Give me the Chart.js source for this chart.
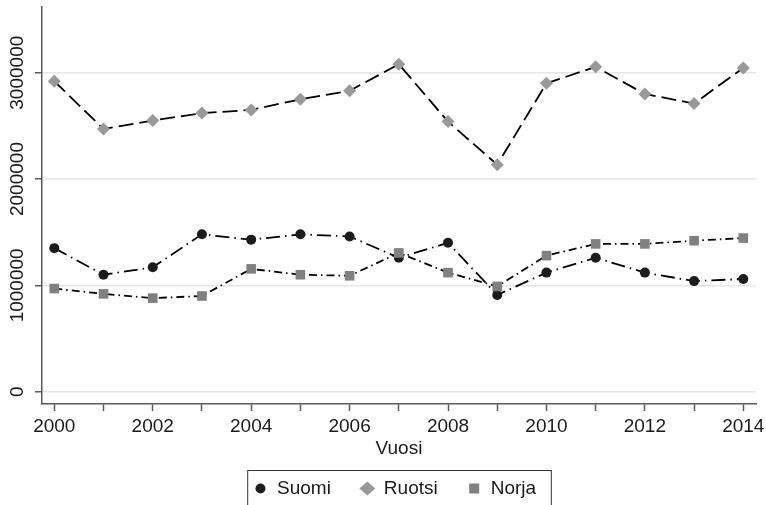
<!DOCTYPE html>
<html lang="fi">
<head>
  <meta charset="UTF-8" />
  <title>Suomi, Ruotsi, Norja</title>
  <script src="https://cdn.jsdelivr.net/npm/chart.js"></script>
  <style>
    body { margin: 0; background: #fff; }
    #wrap { width: 766px; height: 505px; }
  </style>
</head>
<body>
  <div id="wrap"><canvas id="chart" width="766" height="505"></canvas></div>

  <script>
    const years = [2000, 2001, 2002, 2003, 2004, 2005, 2006, 2007, 2008, 2009, 2010, 2011, 2012, 2013, 2014];
    const suomi = [1350000, 1100000, 1170000, 1480000, 1430000, 1480000, 1460000, 1260000, 1400000, 910000, 1120000, 1260000, 1120000, 1040000, 1060000];
    const ruotsi = [2920000, 2470000, 2550000, 2620000, 2650000, 2750000, 2830000, 3080000, 2540000, 2135000, 2900000, 3055000, 2800000, 2710000, 3045000];
    const norja = [970000, 920000, 880000, 900000, 1155000, 1100000, 1090000, 1305000, 1120000, 990000, 1280000, 1390000, 1390000, 1420000, 1445000];
    const yTicks = [0, 1000000, 2000000, 3000000];
    const yTickLabels = ['0', '1000000', '2000000', '3000000'];
    const xTitle = 'Vuosi';

    const FONT = '"Liberation Sans", Arial, Helvetica, sans-serif';
    const TEXT = '#1a1a1a';
    const AXIS = '#5a5a5a';

    const pts = vals => years.map((y, i) => ({ x: y, y: vals[i] }));

    // y labels are vertical in the original, chart.js can't rotate y ticks
    const yLabelsPlugin = {
      id: 'yLabels',
      afterDraw(chart) {
        const ctx = chart.ctx, s = chart.scales.y;
        ctx.save();
        ctx.font = '19px ' + FONT;
        ctx.fillStyle = TEXT;
        ctx.textAlign = 'center';
        ctx.textBaseline = 'middle';
        yTicks.forEach((v, i) => {
          ctx.save();
          ctx.translate(chart.chartArea.left - 24.5, s.getPixelForValue(v));
          ctx.rotate(-Math.PI / 2);
          ctx.fillText(yTickLabels[i], 0, 0);
          ctx.restore();
        });
        ctx.restore();
      }
    };

    function marker(ctx, style, x, y, color) {
      ctx.fillStyle = color;
      ctx.beginPath();
      if (style === 'circle') {
        ctx.arc(x, y, 5, 0, Math.PI * 2);
      } else if (style === 'rectRot') {
        ctx.moveTo(x, y - 7); ctx.lineTo(x + 8, y); ctx.lineTo(x, y + 7); ctx.lineTo(x - 8, y);
        ctx.closePath();
      } else {
        ctx.rect(x - 5, y - 5, 10, 10);
      }
      ctx.fill();
    }

    // stata-style boxed legend under the axis title
    const boxLegend = {
      id: 'boxLegend',
      afterDraw(chart) {
        const ctx = chart.ctx, ca = chart.chartArea;
        const sets = chart.data.datasets;
        ctx.save();
        ctx.font = '19px ' + FONT;
        const widths = sets.map(d => ctx.measureText(d.label).width);
        const padL = 13.3, gapText = 16.5, gapItem = 36.5, padR = 14.7;
        let total = padL + padR - gapItem;
        widths.forEach(w => { total += gapText + w + gapItem; });
        const left = (ca.left + ca.right) / 2 - total / 2;
        const top = 470, cy = 488.5;
        ctx.strokeStyle = '#333';
        ctx.lineWidth = 1;
        ctx.strokeRect(left + 0.5, top + 0.5, total, 60);
        let x = left + padL;
        sets.forEach((d, i) => {
          marker(ctx, d.pointStyle, x, cy, d.pointBackgroundColor);
          ctx.fillStyle = TEXT;
          ctx.textAlign = 'left';
          ctx.textBaseline = 'middle';
          ctx.fillText(d.label, x + gapText, cy);
          x += gapText + widths[i] + gapItem;
        });
        ctx.restore();
      }
    };

    new Chart(document.getElementById('chart'), {
      type: 'line',
      data: {
        datasets: [
          {
            label: 'Suomi',
            data: pts(suomi),
            borderColor: '#000',
            borderWidth: 1.8,
            borderDash: [14, 5, 1.5, 5],
            pointStyle: 'circle',
            pointRadius: 5,
            pointBackgroundColor: '#1c1c1c',
            pointBorderColor: '#1c1c1c',
            pointBorderWidth: 0,
            order: 2
          },
          {
            label: 'Ruotsi',
            data: pts(ruotsi),
            borderColor: '#000',
            borderWidth: 1.8,
            borderDash: [15, 6],
            pointStyle: 'rectRot',
            pointRadius: 6.5,
            pointBackgroundColor: '#999999',
            pointBorderColor: '#999999',
            pointBorderWidth: 0,
            order: 1
          },
          {
            label: 'Norja',
            data: pts(norja),
            borderColor: '#000',
            borderWidth: 1.8,
            borderDash: [8, 4, 1.5, 4],
            pointStyle: 'rect',
            pointRadius: 6.8,
            pointBackgroundColor: '#808080',
            pointBorderColor: '#808080',
            pointBorderWidth: 0,
            order: 0
          }
        ]
      },
      options: {
        responsive: false,
        animation: false,
        layout: { padding: { top: 7, right: 10, bottom: 0, left: 0 } },
        plugins: {
          legend: { display: false },
          tooltip: { enabled: false }
        },
        scales: {
          x: {
            type: 'linear',
            min: 1999.75,
            max: 2014.258,
            afterFit: s => { s.height = 101; s.paddingLeft = 0; s.paddingRight = 0; },
            ticks: {
              stepSize: 1,
              includeBounds: false,
              autoSkip: false,
              maxRotation: 0,
              padding: 4,
              color: TEXT,
              font: { family: FONT, size: 19 },
              callback: v => (v % 2 === 0 ? String(v) : '')
            },
            grid: { drawOnChartArea: false, tickLength: 7, tickColor: AXIS, tickWidth: 1.5 },
            border: { color: AXIS, width: 1.5 },
            title: {
              display: true,
              text: xTitle,
              color: TEXT,
              font: { family: FONT, size: 19 },
              padding: { top: 0, bottom: 44.8 }
            }
          },
          y: {
            min: -115700,
            max: 3618000,
            afterFit: s => { s.width = 42; s.paddingTop = 0; s.paddingBottom = 0; },
            afterBuildTicks: s => { s.ticks = yTicks.map(v => ({ value: v })); },
            ticks: { display: false },
            grid: { color: '#e6e6e6', lineWidth: 1.5, tickLength: 7, tickColor: AXIS, tickWidth: 1.5 },
            border: { color: AXIS, width: 1.5 }
          }
        }
      },
      plugins: [yLabelsPlugin, boxLegend]
    });
  </script>
</body>
</html>
